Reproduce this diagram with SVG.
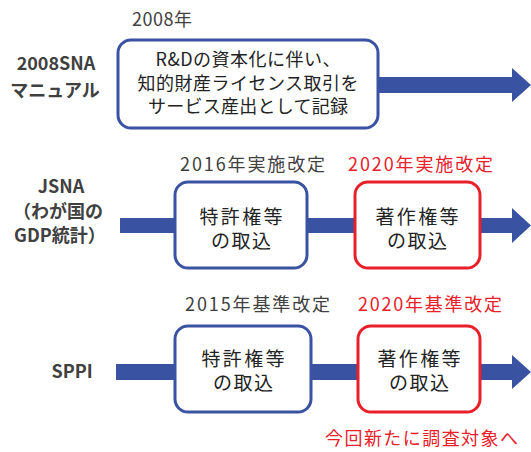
<svg xmlns="http://www.w3.org/2000/svg" width="531" height="452" viewBox="0 0 531 452">
<style>
text{font-family:"Noto Sans CJK JP","Noto Sans",sans-serif;}
.lbl{font-size:18px;font-weight:bold;fill:#404040;text-anchor:middle;}
.yr{font-size:18px;fill:#404040;}
.yrr{font-size:18px;fill:#e8202a;}
.bt{font-size:18px;fill:#222;text-anchor:middle;}
.bt2{font-size:19px;fill:#222;text-anchor:middle;}
.bb{fill:#fff;stroke:#3a52a2;stroke-width:3;}
.rb{fill:#fff;stroke:#e8202a;stroke-width:3;}
.arr{fill:#3a52a2;}
</style>
<g id="connectors">
<polygon class="arr" points="300,77 512,77 512,68 531,85 512,102 512,93 300,93"/>
<polygon class="arr" points="120,218 512,218 512,208 531,225.5 512,243 512,233 120,233"/>
<polygon class="arr" points="116,364 512,364 512,355 531,372 512,389 512,380 116,380"/>
</g>
<g id="label-2008sna">
<text class="lbl" x="56" y="70">2008SNA</text>
<text class="lbl" x="55" y="97">マニュアル</text>
</g>
<g id="label-jsna">
<text class="lbl" x="61" y="193">JSNA</text>
<text class="lbl" x="58" y="218">（わが国の</text>
<text class="lbl" x="60" y="242">GDP統計）</text>
</g>
<g id="label-sppi">
<text class="lbl" x="72" y="378">SPPI</text>
</g>
<g id="node-2008">
<text class="yr" x="132" y="26" textLength="60">2008年</text>
<rect class="bb" x="118" y="40" width="260" height="88" rx="13"/>
<text class="bt" x="248" y="66" textLength="185">R&amp;Dの資本化に伴い、</text>
<text class="bt" x="248" y="90" textLength="221">知的財産ライセンス取引を</text>
<text class="bt" x="248" y="113" textLength="200">サービス産出として記録</text>
</g>
<g id="node-jsna-2016">
<text class="yr" x="180" y="171" textLength="145">2016年実施改定</text>
<rect class="bb" x="175" y="182" width="132" height="86" rx="13"/>
<text class="bt2" x="241" y="224" textLength="83">特許権等</text>
<text class="bt2" x="241" y="248" textLength="60">の取込</text>
</g>
<g id="node-jsna-2020">
<text class="yrr" x="348" y="171" textLength="145">2020年実施改定</text>
<rect class="rb" x="355" y="182" width="125" height="86" rx="13"/>
<text class="bt2" x="417" y="224" textLength="83">著作権等</text>
<text class="bt2" x="417" y="248" textLength="60">の取込</text>
</g>
<g id="node-sppi-2015">
<text class="yr" x="185" y="311" textLength="145">2015年基準改定</text>
<rect class="bb" x="175" y="326" width="136" height="86" rx="13"/>
<text class="bt2" x="243" y="366" textLength="83">特許権等</text>
<text class="bt2" x="243" y="390" textLength="60">の取込</text>
</g>
<g id="node-sppi-2020">
<text class="yrr" x="358" y="311" textLength="144">2020年基準改定</text>
<rect class="rb" x="358" y="326" width="122" height="86" rx="13"/>
<text class="bt2" x="419" y="366" textLength="83">著作権等</text>
<text class="bt2" x="419" y="390" textLength="60">の取込</text>
</g>
<g id="note">
<text class="yrr" x="325" y="445" textLength="193">今回新たに調査対象へ</text>
</g>
</svg>
